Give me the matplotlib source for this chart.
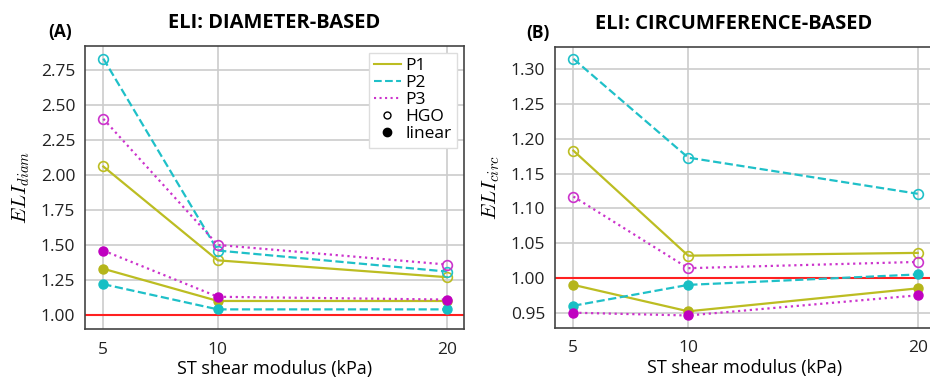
import matplotlib
matplotlib.use("Agg")
import matplotlib.pyplot as plt
from matplotlib.lines import Line2D

plt.rcParams['font.family'] = ['Open Sans', 'DejaVu Sans']
plt.rcParams['mathtext.fontset'] = 'cm'

modulus = [5, 10, 20]

# diameter-based ELI
diam_hgo = {
    'P1': [2.06, 1.39, 1.27],
    'P2': [2.83, 1.46, 1.31],
    'P3': [2.40, 1.50, 1.36],
}
diam_linear = {
    'P1': [1.33, 1.10, 1.10],
    'P2': [1.22, 1.04, 1.04],
    'P3': [1.46, 1.13, 1.11],
}

# circumference-based ELI
circ_hgo = {
    'P1': [1.183, 1.032, 1.036],
    'P2': [1.315, 1.173, 1.121],
    'P3': [1.117, 1.014, 1.023],
}
circ_linear = {
    'P1': [0.990, 0.952, 0.985],
    'P2': [0.960, 0.990, 1.005],
    'P3': [0.950, 0.946, 0.975],
}

colors = {'P1': '#bcbd22', 'P2': '#1fc0c8', 'P3': '#cc33cc'}
fill_colors = {'P1': '#b5b51a', 'P2': '#17bfc4', 'P3': '#c000c0'}
styles = {'P1': '-', 'P2': '--', 'P3': ':'}

fig = plt.figure(figsize=(9.3, 3.81), dpi=100)
ax1 = fig.add_axes([85 / 930, 52 / 381, 379 / 930, 283 / 381])
ax2 = fig.add_axes([555 / 930, 53 / 381, 380 / 930, 281 / 381])


def draw(ax, hgo, linear, ylim, yticks, ylabel, title, tag, tag_x):
    for k in ['P1', 'P2', 'P3']:
        ax.plot(modulus, hgo[k], linestyle=styles[k], color=colors[k], lw=1.6,
                marker='o', markersize=7, markerfacecolor='none',
                markeredgecolor=colors[k], markeredgewidth=1.2, zorder=3)
    for k in ['P1', 'P2', 'P3']:
        ax.plot(modulus, linear[k], linestyle=styles[k], color=colors[k], lw=1.6,
                marker='o', markersize=6.5, markerfacecolor=fill_colors[k],
                markeredgecolor=fill_colors[k], zorder=3)
    ax.axhline(1.0, color='#ff2020', lw=1.5, zorder=2)
    ax.set_xlim(4.2, 20.75)
    ax.set_ylim(*ylim)
    ax.set_xticks(modulus)
    ax.set_yticks(yticks)
    ax.set_yticklabels(['%.2f' % t for t in yticks])
    ax.grid(True, color='#cccccc', lw=1.2)
    ax.set_axisbelow(True)
    for s in ax.spines.values():
        s.set_color('#444444')
        s.set_linewidth(1.2)
    ax.tick_params(length=0, labelsize=12.5, colors='#222222', pad=7)
    ax.tick_params(axis='x', pad=9)
    ax.set_xlabel('ST shear modulus (kPa)', fontsize=13, labelpad=2)
    ax.set_ylabel(ylabel, fontsize=15, labelpad=6)
    ax.set_title(title, fontsize=14.5, fontweight='bold', pad=13)
    ax.text(tag_x, 1.05, tag, transform=ax.transAxes, fontsize=12.5,
            fontweight='bold', ha='center', va='center')


draw(ax1, diam_hgo, diam_linear, (0.90, 2.92),
     [1.00, 1.25, 1.50, 1.75, 2.00, 2.25, 2.50, 2.75],
     r'$ELI_{diam}$', 'ELI: DIAMETER-BASED', '(A)', -0.066)
draw(ax2, circ_hgo, circ_linear, (0.928, 1.332),
     [0.95, 1.00, 1.05, 1.10, 1.15, 1.20, 1.25, 1.30],
     r'$ELI_{circ}$', 'ELI: CIRCUMFERENCE-BASED', '(B)', -0.045)
ax2.title.set_position((0.47, 1.0))

handles = [
    Line2D([], [], color=colors['P1'], ls='-', lw=1.5),
    Line2D([], [], color=colors['P2'], ls='--', lw=1.5),
    Line2D([], [], color=colors['P3'], ls=':', lw=1.5),
    Line2D([], [], ls='', marker='o', markersize=5, markerfacecolor='none',
           markeredgecolor='black'),
    Line2D([], [], ls='', marker='o', markersize=6, color='black'),
]
ax1.legend(handles, ['P1', 'P2', 'P3', 'HGO', 'linear'], loc='upper right',
           fontsize=12.5, handlelength=1.5, handletextpad=0.3, labelspacing=0.05,
           borderpad=0.3, borderaxespad=0.4, fancybox=False, framealpha=1,
           edgecolor='#dddddd')

fig.savefig('out.png', dpi=100)
